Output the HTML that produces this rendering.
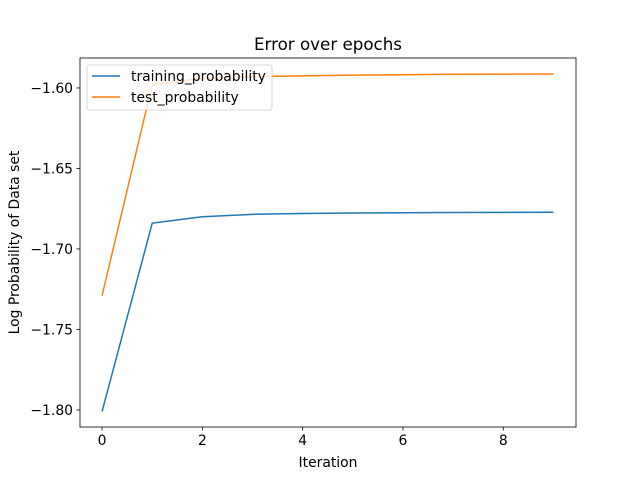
<!DOCTYPE html>
<html><head><meta charset="utf-8"><style>
body{margin:0;background:#fff}
svg{font-family:"DejaVu Sans","Liberation Sans",sans-serif}
</style></head><body>
<svg id="chart" width="640" height="480">
<rect width="640" height="480" fill="#fff"/>
<g id="plot"></g>
</svg>
<script>
const iterations=[0,1,2,3,4,5,6,7,8,9];
const trainingValues=[-1.801,-1.684,-1.680,-1.6785,-1.678,-1.6777,-1.6775,-1.6774,-1.6773,-1.6772];
const testValues=[-1.729,-1.598,-1.594,-1.593,-1.5925,-1.592,-1.5918,-1.5915,-1.5914,-1.5913];
const xTicks=[0,2,4,6,8];
const yTicks=[-1.60,-1.65,-1.70,-1.75,-1.80];
const yTickLabels=["−1.60","−1.65","−1.70","−1.75","−1.80"];
const L=80,R=576,T=58,B=427;
const xMin=-0.44,xMax=9.45,yMin=-1.8106,yMax=-1.5814;
const sx=v=>L+(v-xMin)/(xMax-xMin)*(R-L);
const sy=v=>B-(v-yMin)/(yMax-yMin)*(B-T);
const ns="http://www.w3.org/2000/svg";
const g=document.getElementById('plot');
function mk(tag,attrs,text){const e=document.createElementNS(ns,tag);for(const k in attrs)e.setAttribute(k,attrs[k]);if(text!==undefined)e.textContent=text;g.appendChild(e);return e;}
xTicks.forEach(t=>{
 const l=mk('line',{x1:sx(t),x2:sx(t),y1:B,y2:B+3.5,stroke:'#000','stroke-width':0.8});
 
 
 const tx=mk('text',{x:sx(t),y:B+18,'font-size':13.9,'text-anchor':'middle'},String(t));
 
 
});
yTicks.forEach((t,i)=>{
 const l=mk('line',{x1:L-3.5,x2:L,y1:sy(t),y2:sy(t),stroke:'#000','stroke-width':0.8});
 
 
 const tx=mk('text',{x:L-7,y:sy(t)+5,'font-size':13.9,'text-anchor':'end'},yTickLabels[i]);
 
 
});
function line(vals,color,name){
 const p=mk('polyline',{points:vals.map((v,i)=>sx(iterations[i])+','+sy(v)).join(' '),fill:'none',stroke:color,'stroke-width':1.5});
 
 
}
line(trainingValues,'#1f77b4','training-line');
line(testValues,'#ff7f0e','test-line');
const fr=mk('rect',{x:L,y:T,width:R-L,height:B-T,fill:'none',stroke:'#000','stroke-width':0.8});


const ti=mk('text',{x:(L+R)/2,y:50,'font-size':16.7,'text-anchor':'middle'},'Error over epochs');


const xl=mk('text',{x:(L+R)/2,y:467,'font-size':13.9,'text-anchor':'middle'},'Iteration');


const yl=mk('text',{x:19,y:(T+B)/2,'font-size':13.9,'text-anchor':'middle',transform:'rotate(-90 19 '+((T+B)/2)+')'},'Log Probability of Data set');


const lg=mk('rect',{x:87,y:65,width:185,height:45,rx:2,fill:'#fff','fill-opacity':0.8,stroke:'#ccc','stroke-width':0.8});


[['training_probability','#1f77b4',76],['test_probability','#ff7f0e',97]].forEach(([n,c,y])=>{
 const l=mk('line',{x1:92,x2:120,y1:y,y2:y,stroke:c,'stroke-width':1.5});
 
 
 const t=mk('text',{x:131,y:y+5,'font-size':13.9},n);
 
 
});
</script>
</body></html>
